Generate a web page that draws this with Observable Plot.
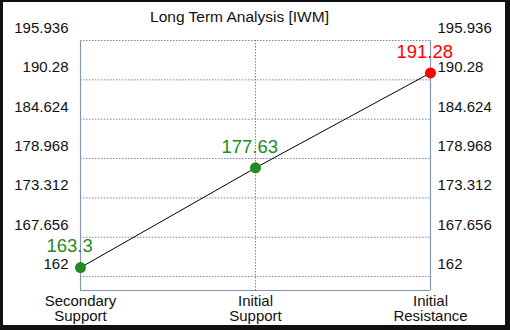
<!DOCTYPE html>
<html>
<head>
<meta charset="utf-8">
<script src="https://cdn.jsdelivr.net/npm/d3@7"></script>
<script src="https://cdn.jsdelivr.net/npm/@observablehq/plot@0.6"></script>
<style>
  html, body { margin: 0; padding: 0; background: #fff; }
  #wrap { position: relative; width: 510px; height: 330px; overflow: hidden; }
  #border { position: absolute; left: 0; top: 0; width: 510px; height: 330px; box-sizing: border-box;
            border-style: solid; border-color: #111; border-width: 2px 5px 5px 3px; pointer-events: none; }
</style>
</head>
<body>
<div id="wrap"><div id="border"></div></div>
<script>
const chartTitle = "Long Term Analysis [IWM]";
const categories = ["Secondary\nSupport", "Initial\nSupport", "Initial\nResistance"];
const values = [163.3, 177.63, 191.28];
const valueLabels = ["163.3", "177.63", "191.28"];
const pointColors = ["#228B22", "#228B22", "#FF0000"];
const yTicks = [162, 167.656, 173.312, 178.968, 184.624, 190.28, 195.936];
const yTickLabels = ["162", "167.656", "173.312", "178.968", "184.624", "190.28", "195.936"];
const yDomain = [160, 195.936];

const gridColor = "#7687A6";
const frameColor = "#8595B0";

const data = categories.map((c, i) => ({cat: c, v: values[i], label: valueLabels[i], color: pointColors[i]}));
const fmt = d => yTickLabels[yTicks.indexOf(d)];

const chart = Plot.plot({
  width: 510,
  height: 330,
  marginLeft: 80,
  marginRight: 80,
  marginTop: 40,
  marginBottom: 40,
  style: {fontFamily: "'Liberation Sans', Arial, sans-serif", fontSize: "15px", background: "#fff", color: "#111"},
  x: {type: "point", domain: categories, padding: 0, axis: null},
  y: {domain: yDomain, axis: null},
  marks: [
    Plot.ruleY(yTicks, {stroke: gridColor, strokeDasharray: "1.5,1.5", strokeWidth: 1}),
    Plot.ruleX([categories[1]], {stroke: gridColor, strokeDasharray: "1.5,1.5", strokeWidth: 1}),
    Plot.ruleX([categories[0], categories[2]], {stroke: frameColor, strokeWidth: 1.2}),
    Plot.ruleY([yDomain[0]], {stroke: frameColor, strokeWidth: 1.2}),
    Plot.axisY(yTicks, {anchor: "left", label: null, tickSize: 0, tickPadding: 12, dy: -12.5, tickFormat: fmt, fill: "#111"}),
    Plot.axisY(yTicks, {anchor: "right", label: null, tickSize: 0, tickPadding: 7, dy: -12.5, tickFormat: fmt, fill: "#111"}),
    Plot.axisX({anchor: "bottom", label: null, tickSize: 0, tickPadding: 5, fill: "#111", lineHeight: 1.0}),
    Plot.line(data, {x: "cat", y: "v", stroke: "#000", strokeWidth: 1}),
    Plot.dot(data, {x: "cat", y: "v", fill: "color", r: 5.5}),
    Plot.text(data, {x: "cat", y: "v", text: "label", fill: "color", textAnchor: "start", dx: -34, dy: -21, fontSize: 18.5}),
    Plot.text([chartTitle], {frameAnchor: "top", dx: -16, dy: -30, fontSize: 15.5, fill: "#111"})
  ]
});
document.getElementById("wrap").insertBefore(chart, document.getElementById("border"));
</script>
</body>
</html>
